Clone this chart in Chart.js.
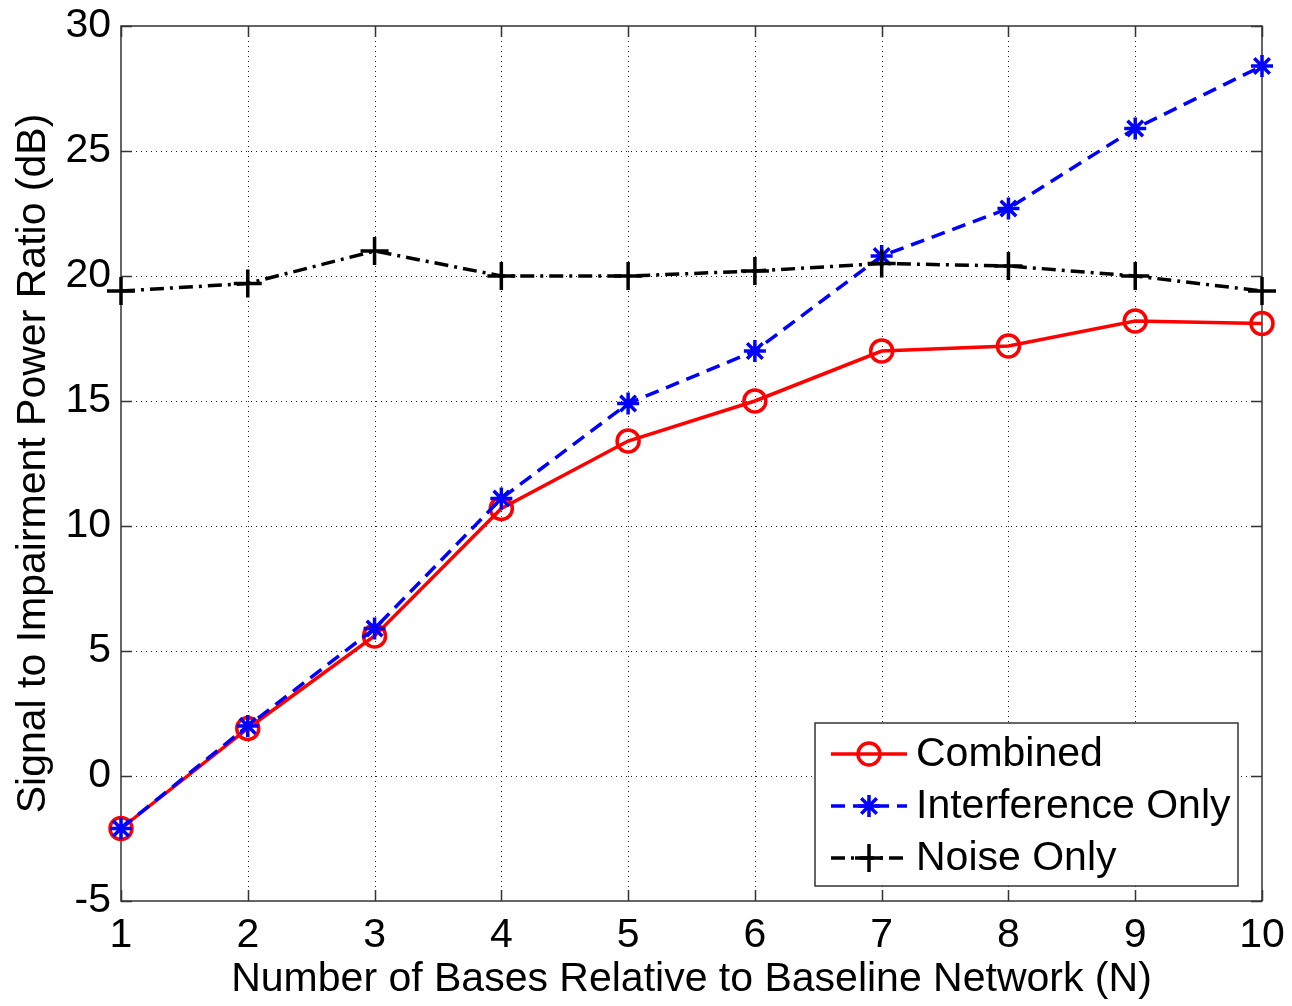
<!DOCTYPE html>
<html><head><meta charset="utf-8">
<script src="https://cdn.jsdelivr.net/npm/chart.js@4/dist/chart.umd.min.js"></script>
<style>html,body{margin:0;padding:0;background:#fff;overflow:hidden}#wrap{width:1292px;height:1006px;position:relative;background:#fff}</style>
</head><body><div id="wrap"><canvas id="c" width="1292" height="1006"></canvas></div>
<script>
// ---- data ----
const xValues = [1, 2, 3, 4, 5, 6, 7, 8, 9, 10];
const combined = [-2.1, 1.9, 5.6, 10.7, 13.4, 15.0, 17.0, 17.2, 18.2, 18.1];
const interferenceOnly = [-2.1, 2.0, 5.9, 11.1, 14.9, 17.0, 20.8, 22.7, 25.9, 28.4];
const noiseOnly = [19.4, 19.7, 21.0, 20.0, 20.0, 20.2, 20.5, 20.4, 20.0, 19.4];
const seriesNames = ['Combined', 'Interference Only', 'Noise Only'];
const xTickLabels = ['1', '2', '3', '4', '5', '6', '7', '8', '9', '10'];
const yTickLabels = ['-5', '0', '5', '10', '15', '20', '25', '30'];
const xTitle = 'Number of Bases Relative to Baseline Network (N)';
const yTitle = 'Signal to Impairment Power Ratio (dB)';

const FONT = '"Liberation Sans", Arial, Helvetica, sans-serif';
const FS = 41;

function toPts(ys) { return xValues.map((x, i) => ({ x: x, y: ys[i] })); }

const styles = [
  { color: '#ff0000', dash: [], point: 'circle', radius: 11, order: 3 },
  { color: '#0000ff', dash: [14, 8], point: 'star', radius: 11, order: 2 },
  { color: '#000000', dash: [14, 6, 3, 6], point: 'cross', radius: 14, order: 1 }
];
const seriesData = [combined, interferenceOnly, noiseOnly];

const datasets = seriesData.map((d, i) => ({
  label: seriesNames[i],
  data: toPts(d),
  borderColor: styles[i].color,
  backgroundColor: 'rgba(0,0,0,0)',
  borderWidth: 3.5,
  borderDash: styles[i].dash,
  pointStyle: styles[i].point,
  pointRadius: styles[i].radius,
  pointBorderWidth: 3.5,
  pointBorderColor: styles[i].color,
  pointBackgroundColor: 'rgba(0,0,0,0)',
  tension: 0,
  clip: false,
  order: styles[i].order
}));

function drawMarker(ctx, style, x, y, r, color) {
  ctx.save();
  ctx.strokeStyle = color;
  ctx.lineWidth = 3.5;
  ctx.setLineDash([]);
  ctx.beginPath();
  if (style === 'circle') {
    ctx.arc(x, y, r, 0, Math.PI * 2);
  } else if (style === 'cross') {
    ctx.moveTo(x - r, y); ctx.lineTo(x + r, y);
    ctx.moveTo(x, y - r); ctx.lineTo(x, y + r);
  } else if (style === 'star') {
    ctx.moveTo(x - r, y); ctx.lineTo(x + r, y);
    ctx.moveTo(x, y - r); ctx.lineTo(x, y + r);
    const d = r * 0.707;
    ctx.moveTo(x - d, y - d); ctx.lineTo(x + d, y + d);
    ctx.moveTo(x - d, y + d); ctx.lineTo(x + d, y - d);
  }
  ctx.stroke();
  ctx.restore();
}

const framePlugin = {
  id: 'matlabFrame',
  beforeDatasetsDraw(chart) {
    const ctx = chart.ctx, a = chart.chartArea;
    const xs = chart.scales.x, ys = chart.scales.y;
    ctx.save();
    ctx.strokeStyle = '#222';
    ctx.lineWidth = 1;
    ctx.setLineDash([1, 4]);
    xs.ticks.forEach(t => {
      const px = Math.round(xs.getPixelForValue(t.value)) + 0.5;
      if (px <= a.left + 1 || px >= a.right - 1) return;
      ctx.beginPath(); ctx.moveTo(px, a.top); ctx.lineTo(px, a.bottom); ctx.stroke();
    });
    ys.ticks.forEach(t => {
      const py = Math.round(ys.getPixelForValue(t.value)) + 0.5;
      if (py <= a.top + 1 || py >= a.bottom - 1) return;
      ctx.beginPath(); ctx.moveTo(a.left, py); ctx.lineTo(a.right, py); ctx.stroke();
    });
    ctx.restore();
    ctx.save();
    ctx.strokeStyle = '#333';
    ctx.lineWidth = 1.5;
    ctx.setLineDash([]);
    ctx.strokeRect(a.left, a.top, a.right - a.left, a.bottom - a.top);
    const tl = 11;
    ctx.beginPath();
    xs.ticks.forEach(t => {
      const px = Math.round(xs.getPixelForValue(t.value)) + 0.5;
      ctx.moveTo(px, a.bottom); ctx.lineTo(px, a.bottom - tl);
      ctx.moveTo(px, a.top); ctx.lineTo(px, a.top + tl);
    });
    ys.ticks.forEach(t => {
      const py = Math.round(ys.getPixelForValue(t.value)) + 0.5;
      ctx.moveTo(a.left, py); ctx.lineTo(a.left + tl, py);
      ctx.moveTo(a.right, py); ctx.lineTo(a.right - tl, py);
    });
    ctx.stroke();
    ctx.restore();
  },
  afterDatasetsDraw(chart) {
    const ctx = chart.ctx;
    const bx = 815, by = 723, bw = 423, bh = 163;
    ctx.save();
    ctx.fillStyle = '#fff';
    ctx.fillRect(bx, by, bw, bh);
    ctx.strokeStyle = '#333';
    ctx.lineWidth = 1.5;
    ctx.strokeRect(bx, by, bw, bh);
    const rows = [754, 806, 858];
    chart.data.datasets.forEach((ds, i) => {
      const y = rows[i];
      ctx.save();
      ctx.strokeStyle = ds.borderColor;
      ctx.lineWidth = 3.5;
      ctx.setLineDash(ds.borderDash || []);
      ctx.beginPath(); ctx.moveTo(831, y); ctx.lineTo(907, y); ctx.stroke();
      ctx.restore();
      drawMarker(ctx, ds.pointStyle, 869, y, ds.pointRadius, ds.borderColor);
      ctx.fillStyle = '#000';
      ctx.font = FS + 'px ' + FONT;
      ctx.textBaseline = 'middle';
      ctx.textAlign = 'left';
      ctx.fillText(ds.label, 916, y + 1);
    });
    ctx.restore();
  }
};

new Chart(document.getElementById('c'), {
  type: 'line',
  data: { datasets: datasets },
  options: {
    responsive: false,
    animation: false,
    devicePixelRatio: 1,
    layout: { padding: { top: 26, right: 30, left: 0, bottom: 0 } },
    plugins: { legend: { display: false }, tooltip: { enabled: false } },
    scales: {
      x: {
        type: 'linear', min: 1, max: 10,
        afterFit: s => { s.height = 105; s.paddingLeft = 0; s.paddingRight = 0; },
        afterBuildTicks: s => { s.ticks = xTickLabels.map(v => ({ value: Number(v) })); },
        ticks: { color: '#000', font: { family: FONT, size: FS }, padding: 10, maxRotation: 0, autoSkip: false,
          callback: (v) => xTickLabels[xTickLabels.indexOf(String(v))] },
        grid: { display: false, drawTicks: false },
        border: { display: false },
        title: { display: true, text: xTitle, color: '#000', font: { family: FONT, size: FS }, padding: { top: 0, bottom: 2 } }
      },
      y: {
        type: 'linear', min: -5, max: 30,
        afterFit: s => { s.width = 121; s.paddingTop = 0; s.paddingBottom = 0; },
        afterBuildTicks: s => { s.ticks = yTickLabels.map(v => ({ value: Number(v) })); },
        ticks: { color: '#000', font: { family: FONT, size: FS }, padding: 10,
          callback: (v) => yTickLabels[yTickLabels.indexOf(String(v))] },
        grid: { display: false, drawTicks: false },
        border: { display: false },
        title: { display: true, text: yTitle, color: '#000', font: { family: FONT, size: FS }, padding: { top: 9, bottom: 0 } }
      }
    }
  },
  plugins: [framePlugin]
});
</script></body></html>
